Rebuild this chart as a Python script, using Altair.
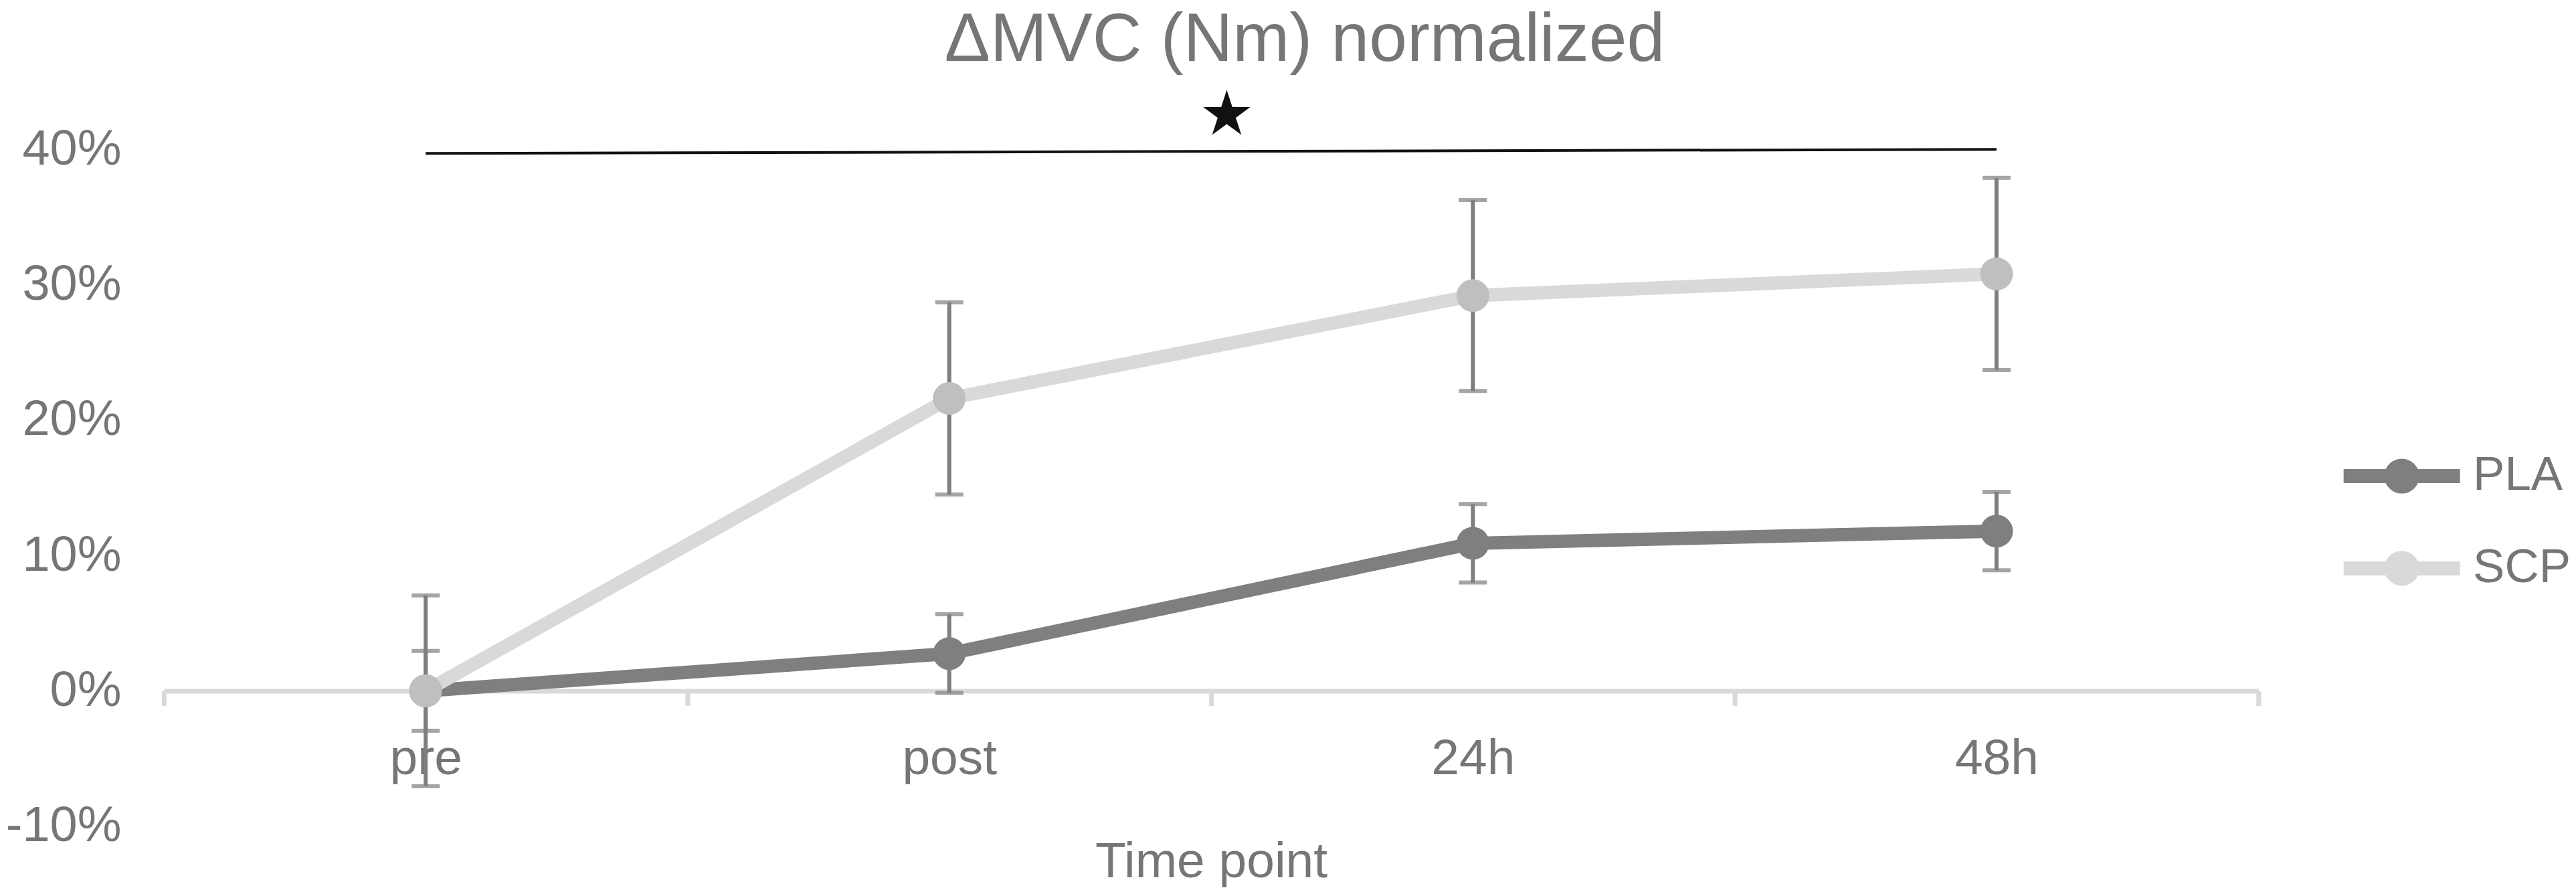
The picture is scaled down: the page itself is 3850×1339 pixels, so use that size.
import altair as alt
import pandas as pd

# ---------------- data ----------------
times = ["pre", "post", "24h", "48h"]
groups = ["PLA", "SCP"]
pla_mean = [0.0, 0.0275, 0.109, 0.118]
pla_err = [0.0295, 0.029, 0.029, 0.029]
scp_mean = [0.0, 0.216, 0.292, 0.308]
scp_err = [0.0705, 0.071, 0.0705, 0.071]
y_ticks = [-0.1, 0.0, 0.1, 0.2, 0.3, 0.4]
line_colors = ["#7f7f7f", "#d9d9d9"]
marker_colors = ["#7f7f7f", "#bfbfbf"]

# significance bracket (category index positions) and star
sig_x = [0, 3]
sig_y = [0.397, 0.400]
star_x = [1.53]
star_y = [0.425]
star_text = ["★"]

TEXT = "#767676"
FONT = "Liberation Sans"

rows = []
for g, means, errs in [("PLA", pla_mean, pla_err), ("SCP", scp_mean, scp_err)]:
    for t, m, e in zip(times, means, errs):
        rows.append({"group": g, "time": t, "mean": m, "lo": m - e, "hi": m + e})
df = pd.DataFrame(rows)

sig_df = pd.DataFrame({"x": [sig_x[0]], "x2": [sig_x[1]], "y": [sig_y[0]], "y2": [sig_y[1]]})
star_df = pd.DataFrame({"x": star_x, "y": star_y, "t": star_text})

W, H = 3132, 1012
yscale = alt.Scale(domain=[-0.1, 0.4], nice=False, zero=False)
xscale = alt.Scale(domain=times, paddingInner=0, paddingOuter=0)

x_enc = alt.X(
    "time:N", scale=xscale, sort=times,
    axis=alt.Axis(
        title="Time point", labelAngle=0, tickBand="extent", offset=-H * 0.2,
        domainColor="#d9d9d9", domainWidth=7, tickColor="#d9d9d9", tickWidth=7,
        tickSize=22, labelFontSize=75, labelColor=TEXT, labelFont=FONT,
        labelPadding=43, titleFontSize=75, titleFont=FONT, titleColor=TEXT,
        titleFontWeight="normal", titlePadding=80, grid=False,
    ),
)
y_enc = alt.Y(
    "mean:Q", scale=yscale,
    axis=alt.Axis(
        values=y_ticks, domain=False, ticks=False, grid=False,
        labelExpr="(datum.value < 0 ? '-' : '') + format(abs(datum.value), '.0%')",
        labelLimit=400,
        labelFontSize=74, labelColor=TEXT, labelFont=FONT, labelPadding=64, title=None,
    ),
)

base = alt.Chart(df)

err_rule = base.mark_rule(color="#7f7f7f", strokeWidth=6).encode(
    x=x_enc, y=alt.Y("lo:Q", scale=yscale), y2="hi:Q"
)
cap_lo = base.mark_tick(color="#7f7f7f", orient="horizontal", size=42, thickness=6).encode(
    x=alt.X("time:N", scale=xscale, sort=times), y=alt.Y("lo:Q", scale=yscale)
)
cap_hi = base.mark_tick(color="#7f7f7f", orient="horizontal", size=42, thickness=6).encode(
    x=alt.X("time:N", scale=xscale, sort=times), y=alt.Y("hi:Q", scale=yscale)
)

legend_path = (
    "M-2.9,0H2.9 "
    "M0.52,0A0.52,0.52 0 1,1 -0.52,0A0.52,0.52 0 1,1 0.52,0 "
    "M0.22,0A0.22,0.22 0 1,1 -0.22,0A0.22,0.22 0 1,1 0.22,0"
)

lines = base.mark_line(strokeWidth=20, strokeJoin="round").encode(
    x=alt.X("time:N", scale=xscale, sort=times),
    y=y_enc,
    color=alt.Color(
        "group:N", scale=alt.Scale(domain=groups, range=line_colors),
        legend=alt.Legend(
            title=None, orient="none", legendX=3306, legendY=448,
            symbolType=legend_path, symbolSize=3600, symbolStrokeWidth=21,
            labelFontSize=71, labelFont=FONT, labelColor=TEXT,
            labelOffset=66, rowPadding=21, padding=0,
        ),
    ),
)
points = base.mark_point(filled=True, size=2400, opacity=1).encode(
    x=alt.X("time:N", scale=xscale, sort=times),
    y=alt.Y("mean:Q", scale=yscale),
    fill=alt.Fill("group:N", scale=alt.Scale(domain=groups, range=marker_colors), legend=None),
)

main = alt.layer(err_rule, cap_lo, cap_hi, lines, points)

qx = alt.Scale(domain=[-0.5, 3.5], nice=False, zero=False)
sig = alt.Chart(sig_df).mark_rule(color="#111111", strokeWidth=4).encode(
    x=alt.X("x:Q", scale=qx, axis=None), x2="x2:Q",
    y=alt.Y("y:Q", scale=yscale), y2="y2:Q",
)
star = alt.Chart(star_df).mark_text(font="DejaVu Sans", fontSize=92, color="#111111").encode(
    x=alt.X("x:Q", scale=qx, axis=None), y=alt.Y("y:Q", scale=yscale), text="t:N"
)
annot = alt.layer(sig, star)

chart = (
    alt.layer(main, annot)
    .resolve_scale(x="independent")
    .properties(
        width=W, height=H,
        padding={"top": 0, "left": 0, "right": 0, "bottom": 0},
        title=alt.TitleParams(
            "ΔMVC (Nm) normalized", fontSize=102, font=FONT, color=TEXT,
            fontWeight="normal", anchor="middle", dx=140, offset=-66, baseline="alphabetic",
        ),
        background="white",
    )
    .configure_view(stroke=None)
)

chart.save("out.html", embed_options={"renderer": "svg", "actions": False})
